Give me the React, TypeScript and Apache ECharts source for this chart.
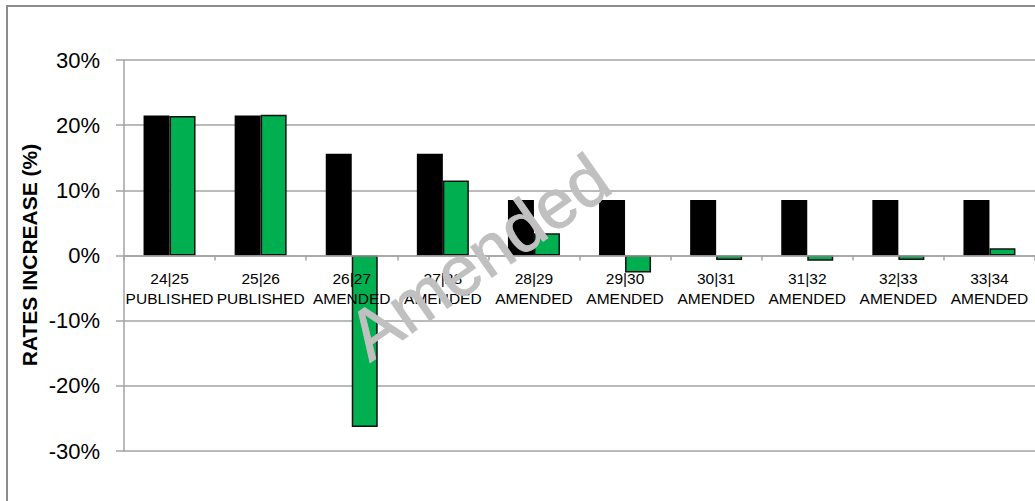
import React, { useEffect, useRef } from "react";
import * as echarts from "echarts";

// Financial years and their status
const years = ["24|25", "25|26", "26|27", "27|28", "28|29", "29|30", "30|31", "31|32", "32|33", "33|34"];
const statuses = ["PUBLISHED", "PUBLISHED", "AMENDED", "AMENDED", "AMENDED", "AMENDED", "AMENDED", "AMENDED", "AMENDED", "AMENDED"];

// Rate increases (%)
const previousRates = [21.5, 21.5, 15.6, 15.6, 8.5, 8.5, 8.5, 8.5, 8.5, 8.5];
const amendedRates = [21.4, 21.6, -26.3, 11.5, 3.4, -2.6, -0.7, -0.8, -0.7, 1.1];

const yTicks = { min: -30, max: 30, interval: 10 };

const FONT = "'Liberation Sans', Arial, sans-serif";
const GRID_GREY = "#a3a3a3";

const GRID = { left: 124, top: 60, width: 915, height: 391 };
// Distance from the bottom of the plot up to the zero line
const zeroOffset = (GRID.height * (0 - yTicks.min)) / (yTicks.max - yTicks.min);

export default function App() {
  const ref = useRef<HTMLDivElement>(null);

  useEffect(() => {
    document.body.style.margin = "0";
    if (!ref.current) return;
    const chart = echarts.init(ref.current, null, { renderer: "svg" });
    const categories = years.map((y, i) => `${y}\n${statuses[i]}`);

    chart.setOption({
      animation: false,
      backgroundColor: "#ffffff",
      grid: { ...GRID, containLabel: false },
      xAxis: {
        type: "category",
        data: categories,
        z: 3,
        offset: -zeroOffset,
        axisLine: { onZero: false, lineStyle: { color: GRID_GREY, width: 1.5 } },
        axisTick: { show: true, length: 5, alignWithLabel: false, lineStyle: { color: GRID_GREY, width: 1.5 } },
        axisLabel: {
          color: "#000",
          fontFamily: FONT,
          fontSize: 15.5,
          lineHeight: 20,
          margin: 13,
          interval: 0,
        },
        splitLine: { show: false },
      },
      yAxis: {
        type: "value",
        min: yTicks.min,
        max: yTicks.max,
        interval: yTicks.interval,
        axisLine: { show: true, lineStyle: { color: GRID_GREY, width: 1.5 } },
        axisTick: { show: true, length: 8, inside: false, lineStyle: { color: GRID_GREY, width: 1.5 } },
        axisLabel: {
          color: "#000",
          fontFamily: FONT,
          fontSize: 22,
          margin: 24,
          formatter: (v: number) => `${v}%`,
        },
        splitLine: { show: true, lineStyle: { color: GRID_GREY, width: 1.5 } },
      },
      series: [
        {
          name: "Previous",
          type: "bar",
          data: previousRates,
          barWidth: 26,
          barGap: "0%",
          itemStyle: { color: "#000000", borderColor: "#000000", borderWidth: 0 },
        },
        {
          name: "Amended",
          type: "bar",
          data: amendedRates,
          barWidth: 26,
          barGap: "0%",
          itemStyle: { color: "#00b050", borderColor: "#111111", borderWidth: 1.5 },
        },
      ],
      graphic: [
        {
          type: "rect",
          z: 0,
          silent: true,
          shape: { x: 7, y: 6, width: 1200, height: 700 },
          style: { fill: "none", stroke: "#8c8c8c", lineWidth: 2 },
        },
        {
          type: "text",
          x: 29,
          y: 255,
          rotation: Math.PI / 2,
          style: {
            text: "RATES INCREASE (%)",
            fontFamily: FONT,
            fontWeight: "bold",
            fontSize: 21,
            fill: "#000",
            align: "center",
            verticalAlign: "middle",
          },
        },
        {
          type: "text",
          x: 479,
          y: 257,
          z: 100,
          rotation: (35 * Math.PI) / 180,
          silent: true,
          style: {
            text: "Amended",
            fontFamily: FONT,
            fontSize: 70,
            fill: "#c0c0c0",
            stroke: "#c0c0c0",
            lineWidth: 1,
            align: "center",
            verticalAlign: "middle",
          },
        },
      ],
    });

    return () => chart.dispose();
  }, []);

  return <div ref={ref} style={{ width: 1035, height: 501 }} />;
}
